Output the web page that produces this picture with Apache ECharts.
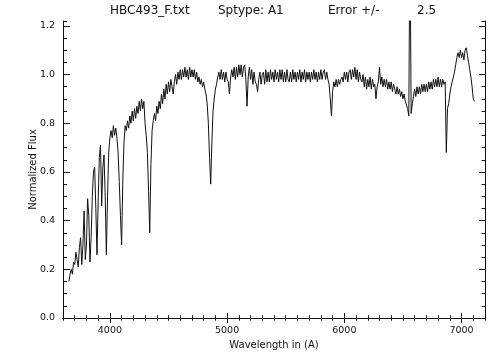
<!DOCTYPE html>
<html>
<head>
<meta charset="utf-8">
<script src="https://cdn.jsdelivr.net/npm/echarts@6/dist/echarts.min.js"></script>
<style>
  html, body { margin: 0; padding: 0; background: #fff; }
  #chart { width: 504px; height: 360px; }
</style>
</head>
<body>
<div id="chart"></div>
<script>
// spectrum sampled every 10 A starting at 3650 A
const WAVE_START = 3650;
const WAVE_STEP = 10;
const flux = [
  // 3650
  0.15, 0.18, 0.20, 0.18, 0.23, 0.22, 0.27, 0.24, 0.21, 0.29,
  // 3750
  0.33, 0.22, 0.30, 0.44, 0.24, 0.30, 0.49, 0.42, 0.23, 0.33,
  // 3850
  0.50, 0.60, 0.62, 0.45, 0.26, 0.48, 0.66, 0.71, 0.46, 0.62,
  // 3950
  0.67, 0.50, 0.26, 0.50, 0.68, 0.74, 0.77, 0.74, 0.79, 0.75,
  // 4050
  0.78, 0.74, 0.68, 0.56, 0.42, 0.30, 0.56, 0.72, 0.79, 0.77,
  // 4150
  0.81, 0.78, 0.83, 0.80, 0.85, 0.81, 0.86, 0.82, 0.87, 0.84,
  // 4250
  0.89, 0.85, 0.90, 0.86, 0.89, 0.80, 0.75, 0.68, 0.52, 0.35,
  // 4350
  0.63, 0.77, 0.81, 0.84, 0.81, 0.87, 0.84, 0.89, 0.86, 0.92,
  // 4450
  0.88, 0.94, 0.90, 0.96, 0.92, 0.97, 0.93, 0.98, 0.95, 0.92,
  // 4550
  0.97, 1.00, 0.96, 1.01, 0.98, 1.02, 0.98, 1.02, 0.99, 1.03,
  // 4650
  0.99, 1.02, 0.98, 1.03, 0.99, 1.02, 0.99, 1.02, 0.98, 1.01,
  // 4750
  0.97, 0.99, 0.96, 0.98, 0.95, 0.97, 0.94, 0.92, 0.88, 0.80,
  // 4850
  0.66, 0.55, 0.72, 0.85, 0.90, 0.94, 0.96, 0.99, 1.01, 0.98,
  // 4950
  1.02, 0.98, 1.01, 0.97, 1.01, 0.98, 0.97, 0.92, 0.99, 1.02,
  // 5050
  0.99, 1.03, 0.98, 1.03, 0.99, 1.04, 1.00, 1.04, 0.99, 1.03,
  // 5150
  1.04, 0.98, 0.87, 0.99, 1.03, 0.98, 1.02, 0.96, 1.01, 0.97,
  // 5250
  0.96, 0.93, 0.98, 1.01, 0.96, 1.00, 1.01, 0.96, 1.02, 0.97,
  // 5350
  1.01, 0.97, 1.02, 0.98, 1.01, 0.97, 1.02, 0.98, 1.01, 0.97,
  // 5450
  1.02, 0.98, 1.02, 0.97, 1.01, 0.97, 1.02, 0.98, 0.97, 1.01,
  // 5550
  0.97, 1.02, 0.98, 1.01, 0.97, 1.01, 0.98, 1.02, 0.97, 1.01,
  // 5650
  0.98, 1.02, 0.97, 1.01, 0.98, 1.01, 0.97, 1.01, 0.98, 1.02,
  // 5750
  0.98, 1.01, 0.97, 1.01, 0.98, 1.02, 0.98, 1.01, 1.02, 0.98,
  // 5850
  1.01, 0.98, 0.96, 0.90, 0.83, 0.93, 0.97, 0.95, 0.98, 0.95,
  // 5950
  0.98, 0.96, 0.98, 0.99, 0.97, 1.01, 0.98, 1.01, 0.97, 1.01,
  // 6050
  1.02, 0.98, 1.02, 0.99, 1.03, 0.98, 1.02, 0.97, 1.01, 0.98,
  // 6150
  0.97, 1.00, 0.95, 0.99, 0.94, 0.98, 0.95, 0.99, 0.94, 0.98,
  // 6250
  0.95, 0.96, 0.90, 0.95, 0.97, 1.03, 0.96, 0.99, 0.95, 0.98,
  // 6350
  0.95, 0.98, 0.94, 0.97, 0.94, 0.97, 0.93, 0.96, 0.94, 0.92,
  // 6450
  0.95, 0.92, 0.94, 0.91, 0.93, 0.90, 0.92, 0.89, 0.89, 0.86,
  // 6550  (H-alpha emission spike, runs off the top)
  0.83, 1.60, 0.84, 0.88, 0.91, 0.94, 0.91, 0.95, 0.92, 0.95,
  // 6650
  0.92, 0.96, 0.93, 0.96, 0.93, 0.96, 0.93, 0.97, 0.94, 0.97,
  // 6750
  0.94, 0.98, 0.95, 0.98, 0.95, 0.99, 0.95, 0.98, 0.95, 0.98,
  // 6850
  0.96, 0.97, 0.68, 0.86, 0.88, 0.92, 0.95, 0.97, 0.99, 1.01,
  // 6950
  1.04, 1.07, 1.09, 1.07, 1.10, 1.07, 1.09, 1.06, 1.10, 1.11,
  // 7050
  1.08, 1.05, 1.02, 0.99, 0.95, 0.90, 0.89
];

const xMajorTicks = [4000, 5000, 6000, 7000];
const yMajorTicks = [0, 0.2, 0.4, 0.6, 0.8, 1.0, 1.2];

const titleParts = [
  { text: 'HBC493_F.txt', left: 110 },
  { text: 'Sptype: A1', left: 218 },
  { text: 'Error +/-', left: 328 },
  { text: '2.5', left: 417 }
];

const FONT = 'DejaVu Sans, sans-serif';
const INK = '#111';

const data = flux.map((f, i) => [WAVE_START + i * WAVE_STEP, f]);

const chart = echarts.init(document.getElementById('chart'), null, { renderer: 'canvas' });

const frameLine = { show: true, lineStyle: { color: INK, width: 1 } };

function xAxisMajor(position, withLabels) {
  return {
    type: 'value',
    position: position,
    min: 3600,
    max: 7200,
    axisLine: frameLine,
    splitLine: { show: false },
    axisTick: {
      inside: true,
      length: 5,
      customValues: xMajorTicks,
      lineStyle: { color: INK }
    },
    axisLabel: withLabels ? {
      customValues: xMajorTicks,
      margin: 8,
      fontSize: 9.5,
      fontFamily: FONT,
      color: INK,
      formatter: (v) => String(v)
    } : { show: false },
    name: withLabels ? 'Wavelength in (A)' : '',
    nameLocation: 'middle',
    nameGap: 22,
    nameMoveOverlap: false,
    nameTextStyle: { fontSize: 10, fontFamily: FONT, color: INK }
  };
}

function xAxisMinor(position) {
  return {
    type: 'value',
    position: position,
    min: 3600,
    max: 7200,
    interval: 100,
    axisLine: { show: false },
    splitLine: { show: false },
    axisTick: { inside: true, length: 2.7, lineStyle: { color: INK } },
    axisLabel: { show: false }
  };
}

function yAxisMajor(position, withLabels) {
  return {
    type: 'value',
    position: position,
    min: 0,
    max: 1.22,
    axisLine: frameLine,
    splitLine: { show: false },
    axisTick: {
      inside: true,
      length: position === 'left' ? 7 : 6,
      customValues: yMajorTicks,
      lineStyle: { color: INK }
    },
    axisLabel: withLabels ? {
      customValues: yMajorTicks,
      margin: 8,
      fontSize: 9.5,
      fontFamily: FONT,
      color: INK,
      formatter: (v) => v.toFixed(1)
    } : { show: false },
    name: withLabels ? 'Normalized Flux' : '',
    nameLocation: 'middle',
    nameGap: 25,
    nameMoveOverlap: false,
    nameTextStyle: { fontSize: 10, fontFamily: FONT, color: INK }
  };
}

function yAxisMinor(position) {
  return {
    type: 'value',
    position: position,
    min: 0,
    max: 1.22,
    interval: 0.05,
    axisLine: { show: false },
    splitLine: { show: false },
    axisTick: { inside: true, length: position === 'left' ? 4 : 3.5, lineStyle: { color: INK } },
    axisLabel: { show: false }
  };
}

chart.setOption({
  animation: false,
  backgroundColor: '#fff',
  title: titleParts.map((t) => ({
    text: t.text,
    left: t.left,
    top: 5,
    padding: 0,
    textStyle: { fontSize: 12, fontWeight: 'normal', fontFamily: FONT, color: INK }
  })),
  grid: { left: 63, right: 19, top: 21, bottom: 42 },
  xAxis: [
    xAxisMajor('bottom', true),
    xAxisMinor('bottom'),
    xAxisMajor('top', false),
    xAxisMinor('top')
  ],
  yAxis: [
    yAxisMajor('left', true),
    yAxisMinor('left'),
    yAxisMajor('right', false),
    yAxisMinor('right')
  ],
  series: [
    {
      type: 'line',
      xAxisIndex: 0,
      yAxisIndex: 0,
      data: data,
      showSymbol: false,
      clip: true,
      lineStyle: { color: INK, width: 1 }
    }
  ]
});
</script>
</body>
</html>
